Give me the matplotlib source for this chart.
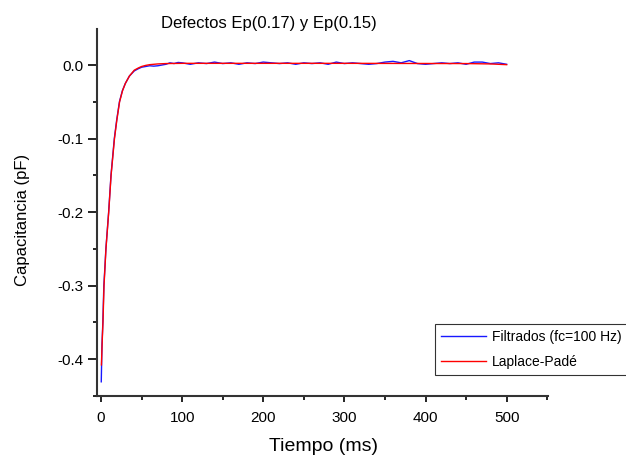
import matplotlib
matplotlib.use("Agg")
import matplotlib.pyplot as plt
from matplotlib.ticker import MultipleLocator, FormatStrFormatter

plt.rcParams['font.family'] = ['Liberation Sans', 'DejaVu Sans']

# Laplace-Padé fit (red)
t_fit = [0.5, 1.5, 2.4, 3.7, 4.9, 6.1, 7.8, 9.5, 12.4, 16.6, 19.5, 22.9, 26.5, 30, 35, 41,
         46, 50, 55, 60, 70, 80, 100, 150, 200, 250, 300, 350, 400, 450, 480, 500]
c_fit = [-0.408, -0.375, -0.35, -0.30, -0.275, -0.25, -0.225, -0.20, -0.15, -0.10, -0.075,
         -0.05, -0.035, -0.025, -0.015, -0.007, -0.004, -0.002, -0.0005, 0.0005, 0.0015,
         0.002, 0.0023, 0.0023, 0.0023, 0.0023, 0.0023, 0.0022, 0.0021, 0.002, 0.0015, 0.0005]

# Filtered data (blue)
t_data = [0.3, 1.2, 2.2, 3.5, 4.8, 6.0, 7.7, 9.4, 12.3, 16.4, 19.3, 22.7, 26.3, 30, 35, 41,
          46, 50, 55, 60, 65, 70, 75, 80, 85, 90, 95, 100, 110, 120, 130, 140, 150, 160,
          170, 180, 190, 200, 210, 220, 230, 240, 250, 260, 270, 280, 290, 300, 310, 320,
          330, 340, 350, 360, 370, 380, 390, 400, 410, 420, 430, 440, 450, 460, 470, 480,
          490, 500]
c_data = [-0.431, -0.38, -0.352, -0.30, -0.275, -0.25, -0.225, -0.20, -0.15, -0.10, -0.075,
          -0.05, -0.035, -0.025, -0.015, -0.008, -0.005, -0.003, -0.002, -0.001, -0.0015,
          -0.001, 0.000, 0.001, 0.003, 0.002, 0.0035, 0.003, 0.001, 0.003, 0.002, 0.004,
          0.002, 0.003, 0.001, 0.003, 0.002, 0.004, 0.003, 0.002, 0.003, 0.001, 0.003,
          0.002, 0.003, 0.001, 0.004, 0.002, 0.003, 0.002, 0.001, 0.002, 0.004, 0.005,
          0.003, 0.006, 0.002, 0.001, 0.002, 0.003, 0.002, 0.003, 0.001, 0.004, 0.004,
          0.002, 0.003, 0.001]

fig = plt.figure(figsize=(6.26, 4.58), dpi=100)
ax = fig.add_axes([0.1545, 0.1354, 0.7209, 0.8006])

ax.plot(t_data, c_data, color='#1818ff', lw=1.0, label='Filtrados (fc=100 Hz)')
ax.plot(t_fit, c_fit, color='#ff0000', lw=1.0, label='Laplace-Padé')

ax.set_xlim(-5.3, 551)
ax.set_ylim(-0.4503, 0.0486)
ax.xaxis.set_major_locator(MultipleLocator(100))
ax.xaxis.set_minor_locator(MultipleLocator(50))
ax.yaxis.set_major_locator(MultipleLocator(0.1))
ax.yaxis.set_minor_locator(MultipleLocator(0.05))
ax.yaxis.set_major_formatter(FormatStrFormatter('%.1f'))

for s in ['top', 'right']:
    ax.spines[s].set_visible(False)
for s in ['left', 'bottom']:
    ax.spines[s].set_linewidth(1.5)
    ax.spines[s].set_color('#333333')

ax.tick_params(axis='both', which='major', direction='out', width=1.2,
               labelsize=11, colors='black')
ax.tick_params(axis='y', which='major', length=6.5, pad=3)
ax.tick_params(axis='x', which='major', length=4.5, pad=6)
ax.tick_params(axis='both', which='minor', direction='out', length=3.2, width=1.2)

fig.text(0.516, 0.026, 'Tiempo (ms)', fontsize=14, ha='center', va='center')
fig.text(0.0367, 0.5207, 'Capacitancia (pF)', fontsize=12, ha='center', va='center',
         rotation=90)
fig.text(0.429, 0.948, 'Defectos Ep(0.17) y Ep(0.15)', fontsize=12, ha='center', va='center')

leg = ax.legend(loc='upper left', bbox_to_anchor=(0.7496, 0.1967), fontsize=10,
                frameon=True, fancybox=False, edgecolor='black', handlelength=3.2,
                borderpad=0.45, labelspacing=0.75, handletextpad=0.45, borderaxespad=0)
leg.get_frame().set_linewidth(0.8)

fig.savefig('out.png', dpi=100)
